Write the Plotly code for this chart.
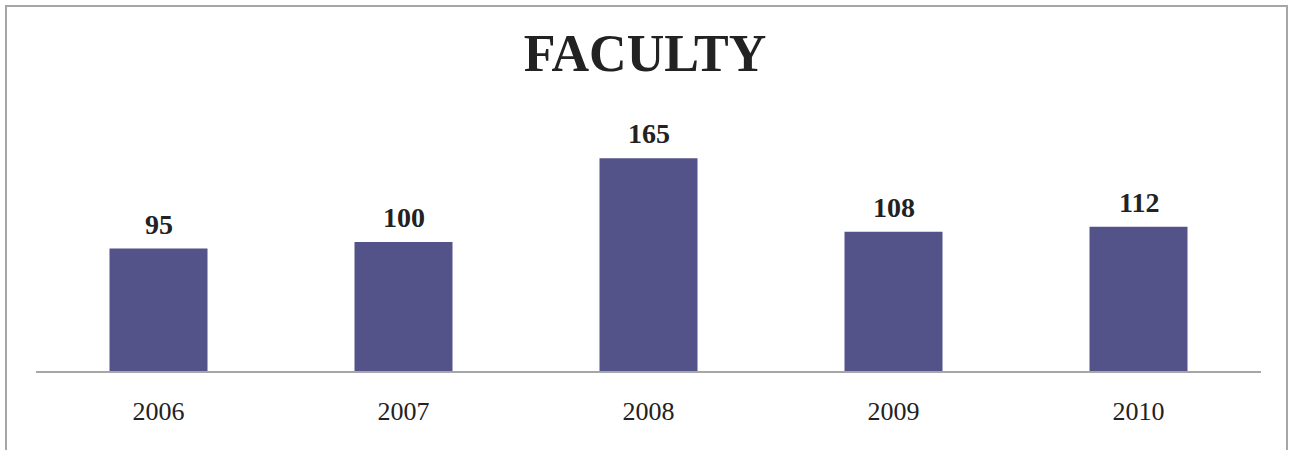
import plotly.graph_objects as go

years = ["2006", "2007", "2008", "2009", "2010"]
faculty = [95, 100, 165, 108, 112]
title_text = "FACULTY"

W, H = 1290, 450
ml, mr, mt, mb = 36, 29, 139, 79

fig = go.Figure()
fig.add_trace(go.Bar(
    x=years, y=faculty,
    marker=dict(color="#53538A", line=dict(width=0)),
    hoverinfo="x+y",
))

# category axes take serial indices for annotation positions
for i, v in enumerate(faculty):
    fig.add_annotation(
        x=i, y=v, text=f"<b>{v}</b>", showarrow=False,
        yanchor="bottom", yshift=7,
        font=dict(family="Liberation Serif, serif", size=28, color="#222222"),
    )

pw = W - ml - mr
ph = H - mt - mb
fig.add_shape(
    type="rect", xref="paper", yref="paper",
    x0=(6 - ml) / pw, x1=(1287 - ml) / pw,
    y0=(H - mb - 460) / ph, y1=(H - mb - 6) / ph,
    line=dict(color="#A6A6A8", width=2), fillcolor="rgba(0,0,0,0)", layer="below",
)

fig.update_layout(
    width=W, height=H,
    margin=dict(l=ml, r=mr, t=mt, b=mb),
    paper_bgcolor="white", plot_bgcolor="white",
    bargap=0.6,
    showlegend=False,
    title=dict(
        text=f"<b>{title_text}</b>", x=0.5, xanchor="center",
        y=1 - 53 / H, yanchor="middle",
        font=dict(family="Liberation Serif, serif", size=52, color="#222222"),
    ),
    xaxis=dict(
        type="category",
        showline=True, linecolor="#A6A6A8", linewidth=1.5,
        showgrid=False, zeroline=False, ticks="",
        ticklabelstandoff=16,
        tickfont=dict(family="Liberation Serif, serif", size=26, color="#222222"),
    ),
    yaxis=dict(
        range=[0, 180], visible=False, showgrid=False, zeroline=False,
    ),
)

fig.write_html(
    "out.html",
    config={"displayModeBar": False},
    post_script="document.body.style.margin='0';document.body.style.overflow='hidden';",
)
